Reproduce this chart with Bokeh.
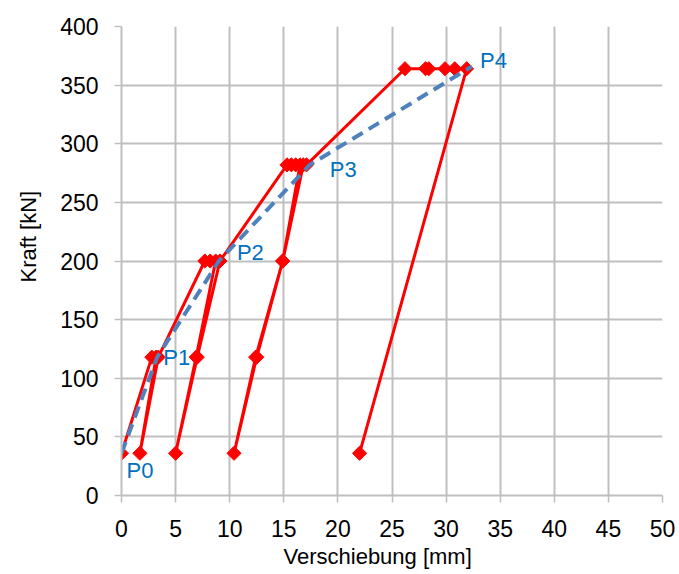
from bokeh.plotting import figure
from bokeh.models import FixedTicker, Range1d, Label, Title
from bokeh.embed import file_html
from bokeh.resources import INLINE
import math

# Measured load path (Verschiebung [mm], Kraft [kN])
test_x = [0.0, 2.8, 3.2, 1.7, 3.4, 7.7, 8.2, 8.7, 6.9, 5.0, 7.0, 9.1,
          15.3, 15.7, 16.1, 16.5, 14.9, 12.4, 10.4, 12.5, 14.9, 16.8, 17.1,
          26.2, 28.1, 28.4, 29.9, 30.8, 31.9, 22.0]
test_y = [36, 118, 118, 36, 118, 200, 200, 200, 118, 36, 118, 200,
          282, 282, 282, 282, 200, 118, 36, 118, 200, 282, 282,
          364, 364, 364, 364, 364, 364, 36]

# Envelope points P0..P4
env_names = ["P0", "P1", "P2", "P3", "P4"]
env_x = [0.0, 3.3, 9.0, 17.4, 32.4]
env_y = [36, 118, 200, 282, 366]

x_ticks = [0, 5, 10, 15, 20, 25, 30, 35, 40, 45, 50]
y_ticks = [0, 50, 100, 150, 200, 250, 300, 350, 400]
x_title = "Verschiebung [mm]"
y_title = "Kraft [kN]"

# label pixel offsets (style)
label_dx = [5, 6, 18, 20, 8]
label_dy = [-17, 0, 9, -5, 6]

FONT = "Liberation Sans, Arial, sans-serif"
GRID = "#BFBFBF"

p = figure(width=679, height=574, output_backend="svg", toolbar_location=None,
           x_range=Range1d(0, 50), y_range=Range1d(0, 400),
           min_border_left=121, min_border_right=17,
           min_border_top=26, min_border_bottom=79)
p.outline_line_color = None
p.background_fill_color = "white"
p.border_fill_color = "white"

for ax, ticks in ((p.xaxis[0], x_ticks), (p.yaxis[0], y_ticks)):
    ax.ticker = FixedTicker(ticks=ticks)
    ax.axis_line_color = GRID
    ax.axis_line_width = 2
    ax.major_tick_line_color = GRID
    ax.major_tick_line_width = 1.5
    ax.major_tick_out = 7
    ax.major_tick_in = 0
    ax.minor_tick_line_color = None
    ax.major_label_text_font = FONT
    ax.major_label_text_font_size = "23px"
    ax.major_label_text_color = "black"

p.xaxis.major_label_standoff = 17
p.yaxis.major_label_standoff = 16

for g, ticks in ((p.xgrid[0], x_ticks), (p.ygrid[0], y_ticks)):
    g.ticker = FixedTicker(ticks=ticks)
    g.grid_line_color = GRID
    g.grid_line_width = 2

p.line(test_x, test_y, line_color="#FF0000", line_width=3)
p.scatter(test_x, test_y, marker="square", size=10, angle=math.pi / 4,
          fill_color="#FF0000", line_color="#FF0000")

p.line(env_x, env_y, line_color="#4F81BD", line_width=4, line_dash="12 7")

for name, x, y, dx, dy in zip(env_names, env_x, env_y, label_dx, label_dy):
    p.add_layout(Label(x=x, y=y, text=name, x_offset=dx, y_offset=dy,
                       text_font=FONT, text_font_size="22px",
                       text_color="#0070C0", text_baseline="middle",
                       text_align="left"))

# axis titles as side-panel titles (off-centre like the reference)
p.add_layout(Title(text=x_title, align="left", offset=162, standoff=8,
                   vertical_align="top", text_font=FONT,
                   text_font_size="22px", text_font_style="normal",
                   text_line_height=0.75, text_color="black"), "below")
p.add_layout(Title(text=y_title, align="left", offset=213, standoff=29,
                   vertical_align="top", text_font=FONT,
                   text_font_size="22px", text_font_style="normal",
                   text_color="black"), "left")

open("out.html", "w").write(file_html(p, INLINE))
